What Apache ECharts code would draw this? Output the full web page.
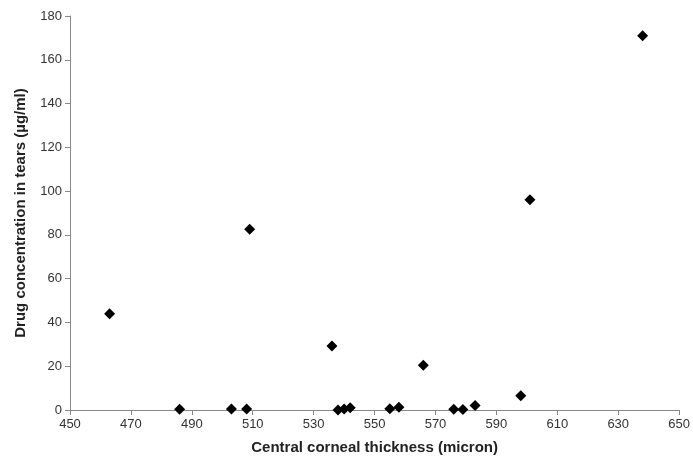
<!DOCTYPE html>
<html><head><meta charset="utf-8">
<script src="https://cdn.jsdelivr.net/npm/echarts@6/dist/echarts.min.js"></script>
<style>html,body{margin:0;padding:0;background:#fff}#c{width:693px;height:466px}</style>
</head><body><div id="c"></div>
<script>
const thickness = [463, 486, 503, 508, 509, 536, 538, 540, 542, 555, 558, 566, 576, 579, 583, 598, 601, 638];
const concentration = [44, 0.3, 0.5, 0.4, 82.6, 29.2, 0, 0.5, 1, 0.6, 1.2, 20.5, 0.3, 0.2, 2, 6.5, 96, 171];
const chart = echarts.init(document.getElementById('c'));
const axisText = {color:'#333', fontSize:13, fontFamily:'Liberation Sans, Arial'};
chart.setOption({
  animation:false,
  grid:{left:70, right:6, top:16, bottom:56},
  xAxis:{type:'value', min:450, max:650, interval:20,
    name:'Central corneal thickness (micron)', nameLocation:'middle', nameGap:30,
    nameTextStyle:{fontWeight:'bold', fontSize:15, color:'#222', fontFamily:'Liberation Sans, Arial'},
    axisLine:{lineStyle:{color:'#888'}}, axisTick:{show:true, lineStyle:{color:'#888'}},
    splitLine:{show:false}, axisLabel:axisText},
  yAxis:{type:'value', min:0, max:180, interval:20,
    name:'Drug concentration in tears (µg/ml)', nameLocation:'middle', nameGap:42,
    nameTextStyle:{fontWeight:'bold', fontSize:15, color:'#222', fontFamily:'Liberation Sans, Arial'},
    axisLine:{show:true, lineStyle:{color:'#888'}}, axisTick:{show:true, lineStyle:{color:'#888'}},
    splitLine:{show:false}, axisLabel:axisText},
  series:[{type:'scatter', symbol:'diamond', symbolSize:11,
    itemStyle:{color:'#000', opacity:1},
    data: thickness.map((x,i)=>[x, concentration[i]])}]
});
</script></body></html>
